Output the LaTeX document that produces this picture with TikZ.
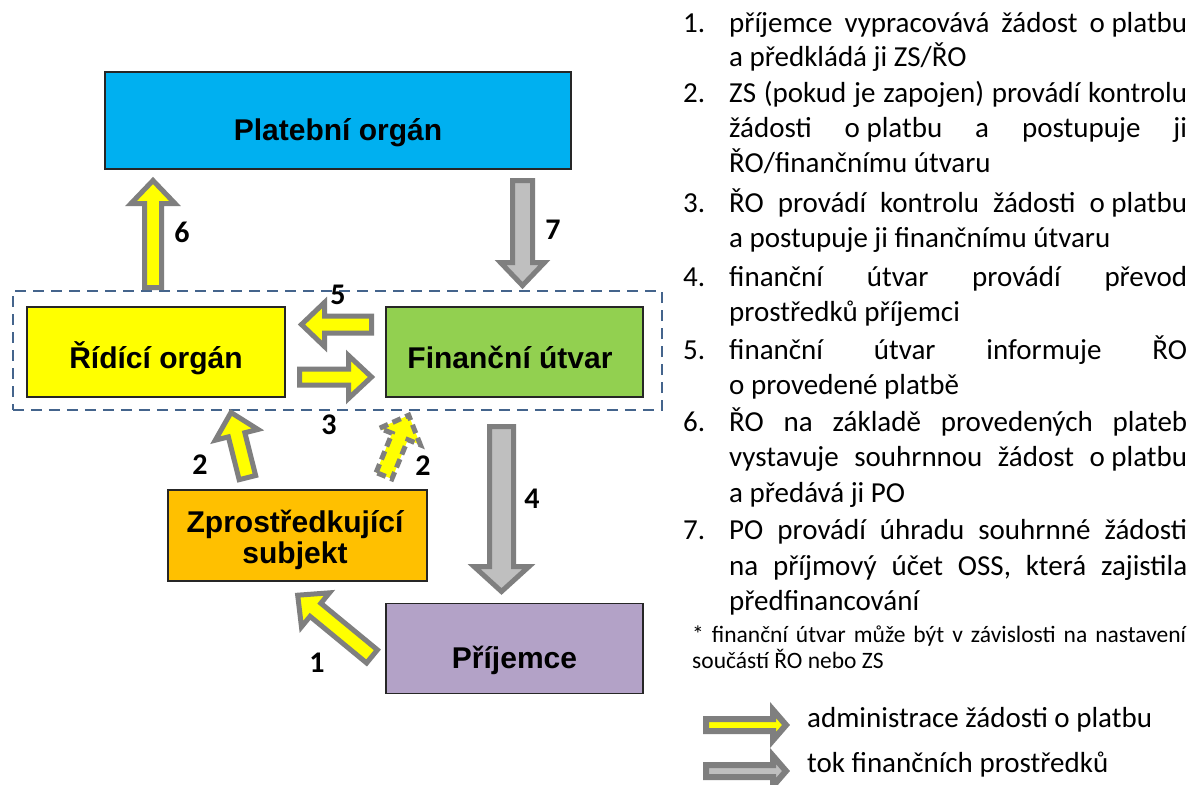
\documentclass[tikz,border=0pt]{standalone}
\usepackage{fontspec}
\setmainfont{Carlito}
\newfontfamily\arialfont{Liberation Sans}
\usetikzlibrary{calc}
\definecolor{poblue}{HTML}{00B0F0}
\definecolor{royellow}{HTML}{FFFF00}
\definecolor{fugreen}{HTML}{92D050}
\definecolor{zsorange}{HTML}{FFC000}
\definecolor{prpurple}{HTML}{B3A2C7}
\definecolor{boxline}{HTML}{262626}
\definecolor{agray}{HTML}{7F7F7F}
\definecolor{afill}{HTML}{BFBFBF}
\definecolor{ayellow}{HTML}{FFFF00}
\definecolor{dashc}{RGB}{68,100,140}
\tikzset{
  box/.style={draw=boxline, line width=1.3pt, inner sep=0pt},
  blbl/.style={font=\arialfont\bfseries\fontsize{30}{33}\selectfont, inner sep=0pt, anchor=base},
  num/.style={font=\bfseries\fontsize{30}{32}\selectfont, inner sep=0pt},
  lst/.style={font=\fontsize{29}{35}\selectfont, inner sep=0pt, anchor=base west},
  fn/.style={font=\fontsize{23.5}{26}\selectfont, inner sep=0pt, anchor=base west},
  yarrow/.style={draw=agray, line width=5pt, fill=ayellow},
  garrow/.style={draw=agray, line width=5pt, fill=afill},
  ydarrow/.style={draw=agray, line width=5pt, fill=ayellow, dash pattern=on 9pt off 5pt},
  lyarrow/.style={draw=agray, line width=6pt, fill=ayellow},
  lgarrow/.style={draw=agray, line width=6pt, fill=afill},
}
% block arrow: style, tail, tip, shaft half width, head half width, head length
\newcommand\barrow[6]{%
  \coordinate (tmphb) at ($(#3)!#6!(#2)$);
  \draw[#1] ($(#2)!#4!90:(#3)$) -- ($(tmphb)!#4!90:(#3)$) -- ($(tmphb)!#5!90:(#3)$)
    -- (#3) -- ($(tmphb)!#5!-90:(#3)$) -- ($(tmphb)!#4!-90:(#3)$) -- ($(#2)!#4!-90:(#3)$) -- cycle;}
\newcommand\jline[3]{\node[lst] (#1) at (729,#2) {\makebox[458pt][s]{#3}};}
\newcommand\lline[3]{\node[lst] (#1) at (729,#2) {#3};}
\newcommand\nline[3]{\node[lst] (#1) at (683,#2) {#3};}
\begin{document}
\begin{tikzpicture}[x=1pt,y=-1pt]
\useasboundingbox (0,0) rectangle (1195,785);
\fill[white] (0,0) rectangle (1195,785);

% dashed frame
\node[draw=dashc, line width=2.5pt, dash pattern=on 11pt off 7pt, minimum width=649pt, minimum height=119pt, inner sep=0pt] (frame) at (337.4,350.5) {};

% boxes
\node[box, fill=poblue, minimum width=466pt, minimum height=97pt] (po) at (338,120.5) {};
\node[box, fill=royellow, minimum width=258pt, minimum height=90pt] (ro) at (156,352) {};
\node[box, fill=fugreen, minimum width=257pt, minimum height=90pt] (fu) at (514.5,352) {};
\node[box, fill=zsorange, minimum width=259pt, minimum height=91pt] (zs) at (297.5,535.5) {};
\node[box, fill=prpurple, minimum width=257pt, minimum height=90pt] (pr) at (514.5,648.5) {};

\node[blbl] (pol) at (338,140) {Platební orgán};
\node[blbl] (rol) at (156,368) {Řídící orgán};
\node[blbl] (ful) at (510,368) {Finanční útvar};
\node[blbl] (zsl1) at (295,532) {Zprostředkující};
\node[blbl] (zsl2) at (295,563) {subjekt};
\node[blbl] (prl) at (514.5,668) {Příjemce};

% arrow end points
\coordinate (a6t) at (153,287.5);   \coordinate (a6h) at (153,180.5);
\coordinate (a7t) at (522.5,180.5); \coordinate (a7h) at (522.5,285.5);
\coordinate (a5t) at (371.5,324.5); \coordinate (a5h) at (301.5,324.5);
\coordinate (a3t) at (299.5,377);   \coordinate (a3h) at (371.5,377);
\coordinate (a4t) at (501.5,426.5); \coordinate (a4h) at (501.5,591.5);
\coordinate (a2lt) at (247.4,477.6); \coordinate (a2lh) at (231,412.5);
\coordinate (a2rt) at (384,475.7);   \coordinate (a2rh) at (408.7,415.2);
\coordinate (a1t) at (372,656.4);    \coordinate (a1h) at (297.7,595.2);

\barrow{yarrow}{a6t}{a6h}{8.5pt}{22pt}{23pt}
\barrow{garrow}{a7t}{a7h}{10pt}{22pt}{23pt}
\barrow{yarrow}{a5t}{a5h}{8.5pt}{22pt}{23pt}
\barrow{yarrow}{a3t}{a3h}{8pt}{21.5pt}{23pt}
\barrow{garrow}{a4t}{a4h}{12pt}{27.5pt}{25pt}
\barrow{yarrow}{a2lt}{a2lh}{8.5pt}{22pt}{23pt}
\barrow{ydarrow}{a2rt}{a2rh}{8.5pt}{22pt}{23pt}
\barrow{yarrow}{a1t}{a1h}{8.5pt}{22pt}{23pt}

% step numbers
\node[num] (n6) at (182,232) {6};
\node[num] (n7) at (553,230) {7};
\node[num] (n5) at (338,295) {5};
\node[num] (n3) at (329,425) {3};
\node[num] (n2l) at (200,465) {2};
\node[num] (n2r) at (423,466) {2};
\node[num] (n4) at (532,499) {4};
\node[num] (n1) at (317,663) {1};

% list
\nline{i1}{32}{1.}
\jline{l1a}{32}{příjemce vypracovává žádost \mbox{o platbu}}
\lline{l1b}{66.5}{a předkládá ji ZS/ŘO}
\nline{i2}{102}{2.}
\jline{l2a}{102}{ZS (pokud je zapojen) provádí kontrolu}
\jline{l2b}{137}{žádosti \mbox{o platbu} a postupuje ji}
\lline{l2c}{172}{ŘO/finančnímu útvaru}
\nline{i3}{212}{3.}
\jline{l3a}{212}{ŘO provádí kontrolu žádosti \mbox{o platbu}}
\lline{l3b}{247}{a postupuje ji finančnímu útvaru}
\nline{i4}{286}{4.}
\jline{l4a}{286}{finanční útvar provádí převod}
\lline{l4b}{321}{prostředků příjemci}
\nline{i5}{359}{5.}
\jline{l5a}{359}{finanční útvar informuje ŘO}
\lline{l5b}{394}{o provedené platbě}
\nline{i6}{431}{6.}
\jline{l6a}{431}{ŘO na základě provedených plateb}
\jline{l6b}{466}{vystavuje souhrnnou žádost \mbox{o platbu}}
\lline{l6c}{502}{a předává ji PO}
\nline{i7}{539}{7.}
\jline{l7a}{539}{PO provádí úhradu souhrnné žádosti}
\jline{l7b}{575}{na příjmový účet OSS, která zajistila}
\lline{l7c}{610}{předfinancování}
\node[fn] (f1) at (692,642) {\makebox[494pt][s]{* finanční útvar může být v závislosti na nastavení}};
\node[fn] (f2) at (692,668) {součástí ŘO nebo ZS};

% legend
\coordinate (lyt) at (706,725); \coordinate (lyh) at (786,725);
\coordinate (lgt) at (706,771); \coordinate (lgh) at (786,771);
\barrow{lyarrow}{lyt}{lyh}{6pt}{15pt}{13pt}
\barrow{lgarrow}{lgt}{lgh}{6pt}{15pt}{13pt}
\node[lst] (leg1) at (807,727) {administrace žádosti o platbu};
\node[lst] (leg2) at (807,772) {tok finančních prostředků};
\end{tikzpicture}
\end{document}
